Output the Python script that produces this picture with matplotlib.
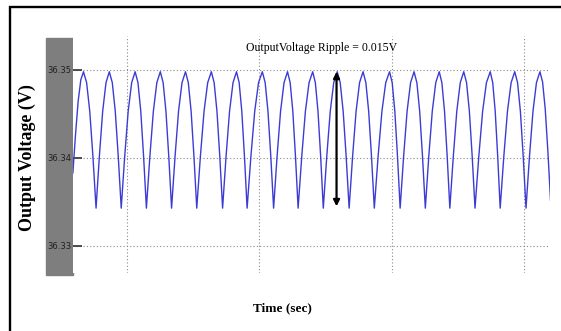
import matplotlib
matplotlib.use("Agg")
import matplotlib.pyplot as plt
from matplotlib.patches import Rectangle

# times in ms
peak_times = [13.5, 17.4, 21.3, 25.1, 28.9, 32.8, 36.6, 40.5, 44.3, 48.1,
              51.8, 55.7, 59.7, 63.4, 67.2, 70.9, 74.9, 78.6, 82.4]
trough_times = [15.4, 19.2, 23.0, 26.8, 30.6, 34.5, 38.2, 42.2, 45.9, 49.7,
                53.6, 57.4, 61.3, 65.1, 68.8, 72.6, 76.4, 80.3]
peak_volt = 36.3498
trough_volt = 36.3343
start_point = (11.9, 36.3383)
end_point = (84.0, 36.3352)

rise_shape = [0.0, 0.38, 0.71, 0.92, 1.0]

ytick_vals = [36.33, 36.34, 36.35]
ytick_labels = ["36.33", "36.34", "36.35"]
xgrid_times = [20, 40, 60, 80]
ripple_text = "OutputVoltage Ripple = 0.015V"
arrow_time = 51.7
arrow_top = 36.3498
arrow_bottom = 36.3345

W, H = 561, 331


def build_trace():
    knots = [start_point]
    for i, tp in enumerate(peak_times):
        knots.append((tp, peak_volt))
        if i < len(trough_times):
            knots.append((trough_times[i], trough_volt))
    knots.append(end_point)

    n = len(rise_shape) - 1
    t = [knots[0][0]]
    v = [knots[0][1]]
    for (t0, v0), (t1, v1) in zip(knots[:-1], knots[1:]):
        for k in range(1, n + 1):
            if v1 > v0:
                frac = rise_shape[k]
            else:
                frac = 1 - rise_shape[n - k]
            t.append(t0 + (t1 - t0) * k / n)
            v.append(v0 + (v1 - v0) * frac)
    return t, v


def plot_ripple():
    fig = plt.figure(figsize=(W / 100, H / 100), dpi=100)
    ax = fig.add_axes([73 / W, 58 / H, 477 / W, 237 / H])

    # gray strip behind the y tick labels
    fig.add_artist(Rectangle((46 / W, 56 / H), 27 / W, 237 / H,
                             transform=fig.transFigure, color="#7e7e7e", zorder=-1))
    # frame, only top and left show in the crop
    fig.add_artist(Rectangle((10 / W, -0.1), 1.2, 1.1 - 7 / H, transform=fig.transFigure,
                             fill=False, edgecolor="black", lw=1.7))

    t, v = build_trace()
    ax.plot(t, v, color="#3c3cd4", lw=1.0, zorder=3)

    ax.set_xlim(11.92, 83.92)
    ax.set_ylim(36.32693, 36.35386)
    ax.set_xticks(xgrid_times)
    ax.set_yticks(ytick_vals)
    ax.set_yticklabels(ytick_labels, family=["Liberation Sans Narrow", "DejaVu Sans"],
                       fontsize=6, color="#202020")
    ax.tick_params(axis="x", length=0, labelbottom=False)
    ax.tick_params(axis="y", direction="in", length=6.5, width=1.3, color="#404040", pad=1)
    for s in ax.spines.values():
        s.set_visible(False)
    ax.grid(True, color="#8a8a8a", linestyle=(0, (1, 2)), lw=0.8)

    ax.annotate("", xy=(arrow_time, arrow_top), xytext=(arrow_time, arrow_bottom),
                arrowprops=dict(arrowstyle="<|-|>", color="black", lw=1.6,
                                mutation_scale=9, shrinkA=0, shrinkB=0), zorder=4)

    fig.text(322 / W, 1 - 48 / H, ripple_text, family="Liberation Serif",
             fontsize=8.5, ha="center", va="center")
    fig.text(27 / W, 1 - 158 / H, "Output Voltage (V)", family="Liberation Serif",
             fontweight="bold", fontsize=13, rotation=90, ha="center", va="center")
    fig.text(282 / W, 1 - 308 / H, "Time (sec)", family="Liberation Serif",
             fontweight="bold", fontsize=9.5, ha="center", va="center")

    fig.savefig("out.png", dpi=100)


if __name__ == '__main__':
    plot_ripple()
